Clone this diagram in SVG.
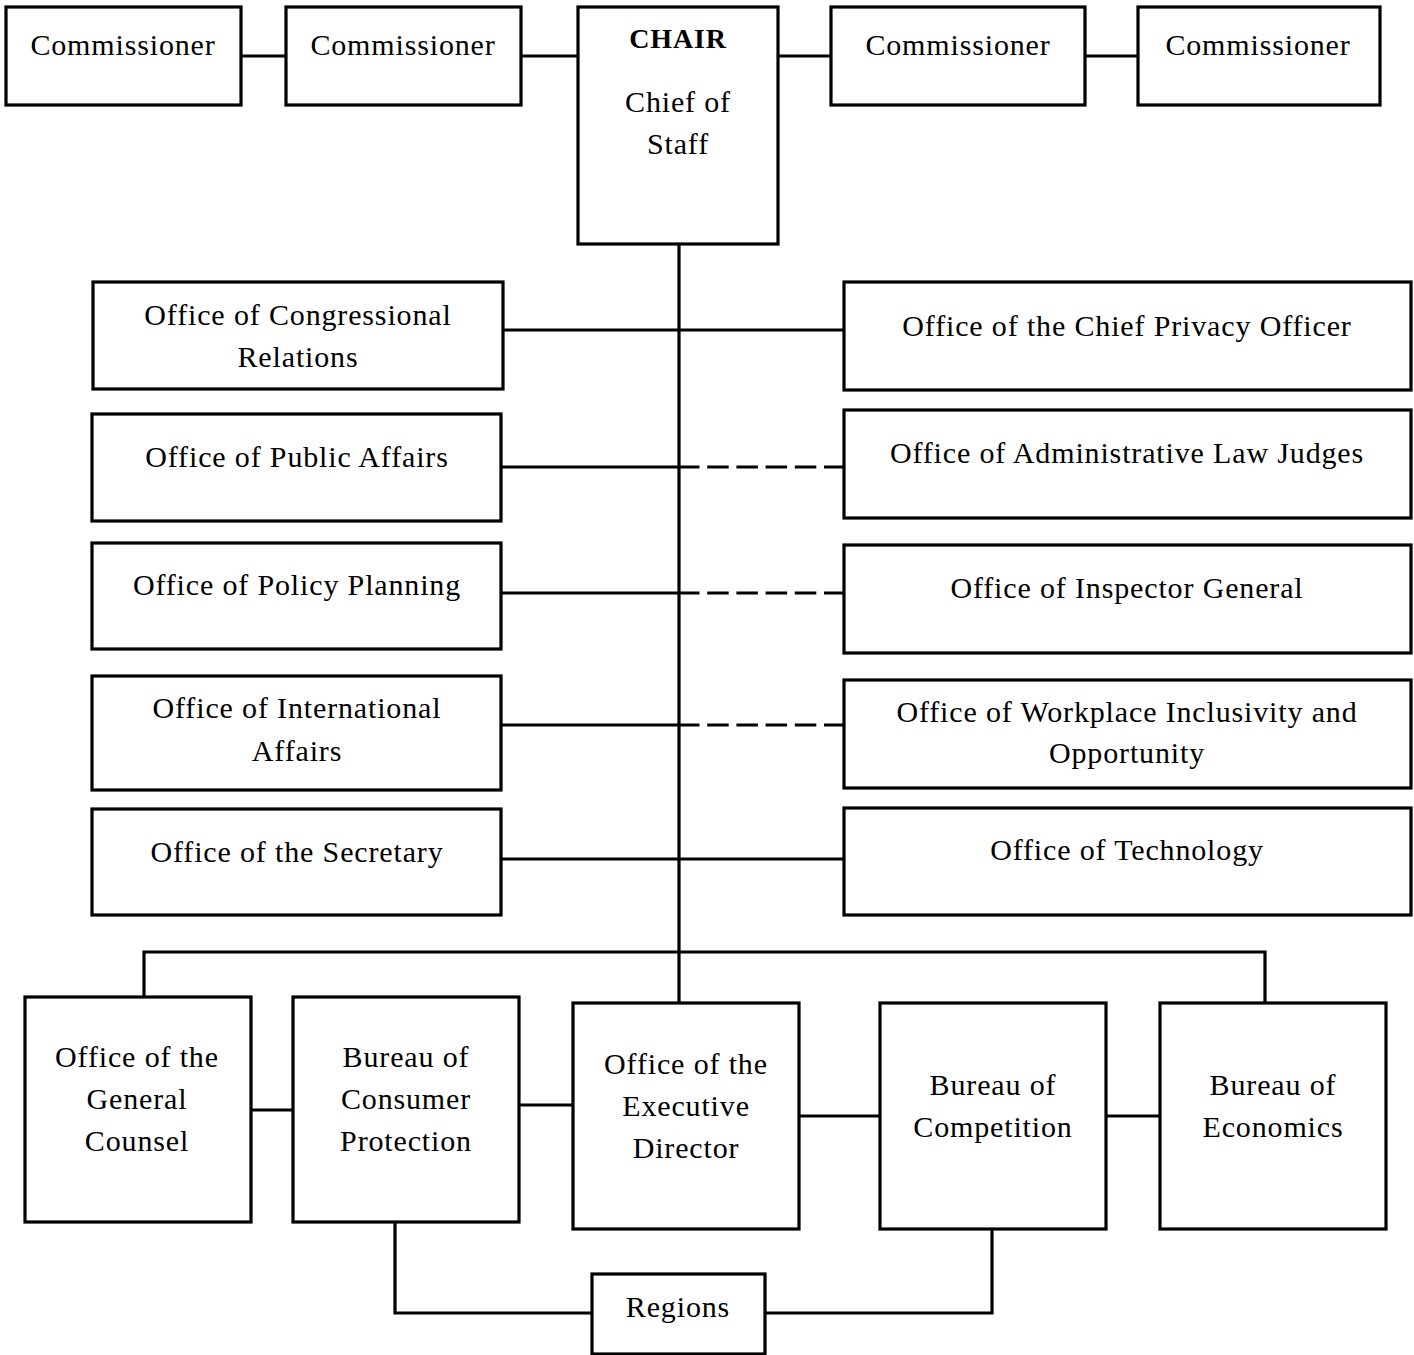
<svg xmlns="http://www.w3.org/2000/svg" width="1414" height="1355" viewBox="0 0 1414 1355">
<style>
.box{fill:#fff;stroke:#000;stroke-width:3.2}
.ln{fill:none;stroke:#000;stroke-width:3.2}
.ds{fill:none;stroke:#000;stroke-width:3.2;stroke-dasharray:21.5 7.7}
text{font-family:"Liberation Serif","Times New Roman",serif;font-size:30px;fill:#000;text-anchor:middle;letter-spacing:0.85px}
.b{font-weight:bold;font-size:28px}
</style>
<rect width="1414" height="1355" fill="#fff"/>
<g id="connectors">
<line class="ln" x1="241" y1="56" x2="286" y2="56"/>
<line class="ln" x1="521" y1="56" x2="578" y2="56"/>
<line class="ln" x1="778" y1="56" x2="831" y2="56"/>
<line class="ln" x1="1085" y1="56" x2="1138" y2="56"/>
<line class="ln" x1="679" y1="244" x2="679" y2="1003"/>
<line class="ln" x1="503" y1="330" x2="844" y2="330"/>
<line class="ln" x1="501" y1="467" x2="679" y2="467"/>
<line class="ds" x1="678" y1="467" x2="844" y2="467"/>
<line class="ln" x1="501" y1="593" x2="679" y2="593"/>
<line class="ds" x1="678" y1="593" x2="844" y2="593"/>
<line class="ln" x1="501" y1="725" x2="679" y2="725"/>
<line class="ds" x1="678" y1="725" x2="844" y2="725"/>
<line class="ln" x1="501" y1="859" x2="844" y2="859"/>
<polyline class="ln" points="144,997 144,952 1265,952 1265,1003"/>
<line class="ln" x1="251" y1="1110" x2="293" y2="1110"/>
<line class="ln" x1="519" y1="1105" x2="573" y2="1105"/>
<line class="ln" x1="799" y1="1116" x2="880" y2="1116"/>
<line class="ln" x1="1106" y1="1116" x2="1160" y2="1116"/>
<polyline class="ln" points="395,1222 395,1313 592,1313"/>
<polyline class="ln" points="765,1313 992,1313 992,1229"/>
</g>
<g id="comm1"><rect class="box" x="6" y="7" width="235" height="98"/><text x="123" y="55">Commissioner</text></g>
<g id="comm2"><rect class="box" x="286" y="7" width="235" height="98"/><text x="403" y="55">Commissioner</text></g>
<g id="chair"><rect class="box" x="578" y="7" width="200" height="237"/><text class="b" x="678" y="48">CHAIR</text><text x="678" y="112">Chief of</text><text x="678" y="154">Staff</text></g>
<g id="comm3"><rect class="box" x="831" y="7" width="254" height="98"/><text x="958" y="55">Commissioner</text></g>
<g id="comm4"><rect class="box" x="1138" y="7" width="242" height="98"/><text x="1258" y="55">Commissioner</text></g>

<g id="congressional"><rect class="box" x="93" y="282" width="410" height="107"/><text x="298" y="325">Office of Congressional</text><text x="298" y="367">Relations</text></g>
<g id="publicaffairs"><rect class="box" x="92" y="414" width="409" height="107"/><text x="297" y="467">Office of Public Affairs</text></g>
<g id="policyplanning"><rect class="box" x="92" y="543" width="409" height="106"/><text x="297" y="595">Office of Policy Planning</text></g>
<g id="international"><rect class="box" x="92" y="676" width="409" height="114"/><text x="297" y="718">Office of International</text><text x="297" y="761">Affairs</text></g>
<g id="secretary"><rect class="box" x="92" y="809" width="409" height="106"/><text x="297" y="862">Office of the Secretary</text></g>

<g id="privacy"><rect class="box" x="844" y="282" width="567" height="108"/><text x="1127" y="336">Office of the Chief Privacy Officer</text></g>
<g id="alj"><rect class="box" x="844" y="410" width="567" height="108"/><text x="1127" y="463">Office of Administrative Law Judges</text></g>
<g id="ig"><rect class="box" x="844" y="545" width="567" height="108"/><text x="1127" y="598">Office of Inspector General</text></g>
<g id="workplace"><rect class="box" x="844" y="680" width="567" height="108"/><text x="1127" y="722">Office of Workplace Inclusivity and</text><text x="1127" y="763">Opportunity</text></g>
<g id="technology"><rect class="box" x="844" y="808" width="567" height="107"/><text x="1127" y="860">Office of Technology</text></g>

<g id="gc"><rect class="box" x="25" y="997" width="226" height="225"/><text x="137" y="1067">Office of the</text><text x="137" y="1109">General</text><text x="137" y="1151">Counsel</text></g>
<g id="bcp"><rect class="box" x="293" y="997" width="226" height="225"/><text x="406" y="1067">Bureau of</text><text x="406" y="1109">Consumer</text><text x="406" y="1151">Protection</text></g>
<g id="ed"><rect class="box" x="573" y="1003" width="226" height="226"/><text x="686" y="1074">Office of the</text><text x="686" y="1116">Executive</text><text x="686" y="1158">Director</text></g>
<g id="bc"><rect class="box" x="880" y="1003" width="226" height="226"/><text x="993" y="1095">Bureau of</text><text x="993" y="1137">Competition</text></g>
<g id="be"><rect class="box" x="1160" y="1003" width="226" height="226"/><text x="1273" y="1095">Bureau of</text><text x="1273" y="1137">Economics</text></g>
<g id="regions"><rect class="box" x="592" y="1274" width="173" height="80"/><text x="678" y="1317">Regions</text></g>
</svg>
